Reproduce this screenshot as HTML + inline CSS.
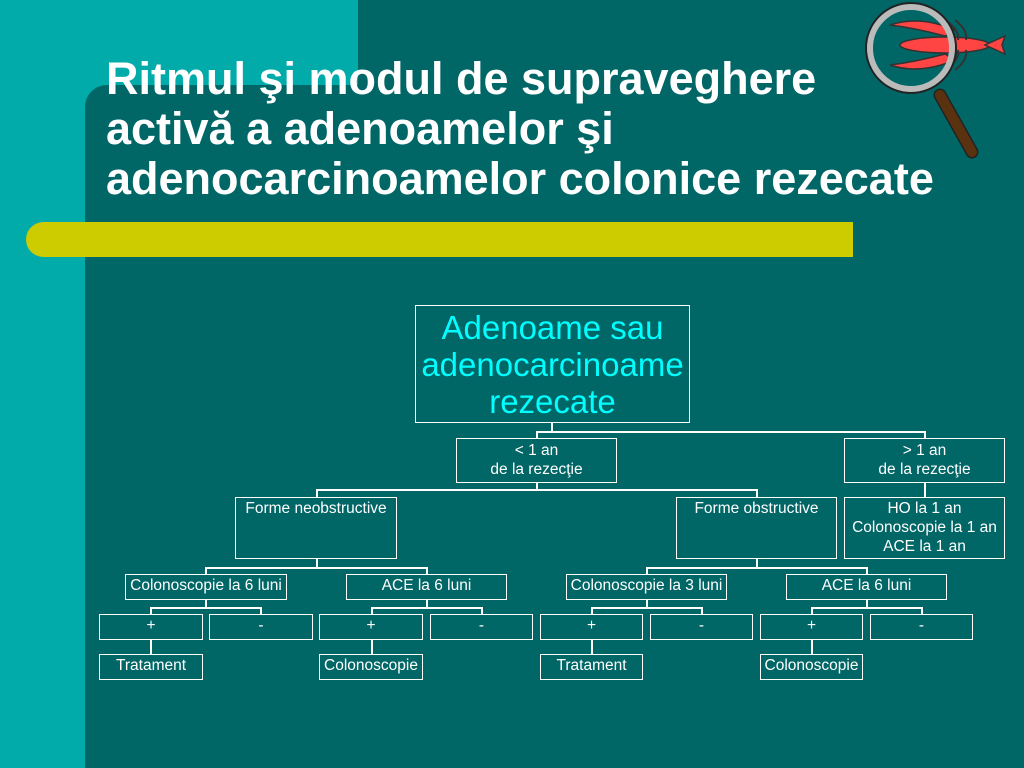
<!DOCTYPE html>
<html><head><meta charset="utf-8"><style>
body{margin:0;width:1024px;height:768px;overflow:hidden;background:#00ABAA;position:relative;font-family:"Liberation Sans",Arial,sans-serif}
.dk{position:absolute;background:#006666}
.b{position:absolute;border:1.5px solid #fff;box-sizing:border-box;color:#fff;font-size:15.5px;text-align:center;line-height:18px;white-space:nowrap}
.l{position:absolute;background:#fff}
h1{position:absolute;left:106px;top:54px;margin:0;color:#fff;font-size:45px;line-height:50px;font-weight:bold;white-space:nowrap}
</style></head><body>
<div class="dk" style="left:358px;top:0;width:666px;height:768px"></div>
<div class="dk" style="left:85px;top:85px;width:939px;height:683px;border-top-left-radius:22px"></div>
<div style="position:absolute;left:26px;top:222px;width:827px;height:35px;background:#CCCC00;border-radius:18px 0 0 18px"></div>
<h1>Ritmul şi modul de supraveghere<br>activă a adenoamelor şi<br>adenocarcinoamelor colonice rezecate</h1>
<svg style="position:absolute;left:850px;top:0" width="174" height="170">
<g fill="#ff4444" stroke="#333" stroke-width="1.5">
<path d="M40 25 Q70 15 105 30 L95 36 Q65 28 40 25Z"/>
<path d="M40 65 Q70 75 105 60 L95 54 Q65 62 40 65Z"/>
<ellipse cx="95" cy="45" rx="45" ry="8"/>
<path d="M135 45 L155 36 L152 45 L155 54Z"/>
</g>
<g stroke="#333" stroke-width="2" fill="none">
<path d="M95 20 Q110 30 108 40"/><path d="M105 20 Q118 30 116 40"/>
<path d="M95 70 Q110 60 108 50"/><path d="M105 70 Q118 60 116 50"/>
</g>
<circle cx="61" cy="48" r="45" fill="none" stroke="#222" stroke-width="2"/>
<circle cx="61" cy="48" r="41" fill="none" stroke="#bbb" stroke-width="6"/>
<line x1="90" y1="95" x2="122" y2="152" stroke="#222" stroke-width="13" stroke-linecap="round"/>
<line x1="90" y1="95" x2="122" y2="152" stroke="#5a3210" stroke-width="10" stroke-linecap="round"/>
</svg>

<div class="b" style="left:415px;top:305px;width:275px;height:118px;color:#00FFFF;font-size:33px;line-height:37px;padding-top:3px">Adenoame sau<br>adenocarcinoame<br>rezecate</div>
<div class="l" style="left:551px;top:423px;width:1.5px;height:9px"></div>
<div class="l" style="left:536px;top:431px;width:389px;height:1.5px"></div>
<div class="l" style="left:536px;top:431px;width:1.5px;height:7px"></div>
<div class="l" style="left:924px;top:431px;width:1.5px;height:7px"></div>
<div class="b" style="left:456px;top:438px;width:161px;height:45px;padding-top:2px;line-height:19px">&lt; 1 an<br>de la rezecţie</div>
<div class="b" style="left:844px;top:438px;width:161px;height:45px;padding-top:2px;line-height:19px">&gt; 1 an<br>de la rezecţie</div>
<div class="l" style="left:536px;top:483px;width:1.5px;height:7px"></div>
<div class="l" style="left:316px;top:489px;width:441px;height:1.5px"></div>
<div class="l" style="left:316px;top:489px;width:1.5px;height:8px"></div>
<div class="l" style="left:756px;top:489px;width:1.5px;height:8px"></div>
<div class="l" style="left:924px;top:483px;width:1.5px;height:14px"></div>
<div class="b" style="left:235px;top:497px;width:162px;height:62px;padding-top:2px">Forme neobstructive</div>
<div class="b" style="left:676px;top:497px;width:161px;height:62px;padding-top:2px">Forme obstructive</div>
<div class="b" style="left:844px;top:497px;width:161px;height:62px;padding-top:1px;line-height:19px">HO la 1 an<br>Colonoscopie la 1 an<br>ACE la 1 an</div>

<div class="l" style="left:316px;top:559px;width:1.5px;height:8px"></div>
<div class="l" style="left:205px;top:567px;width:222px;height:1.5px"></div>
<div class="l" style="left:205px;top:567px;width:1.5px;height:7px"></div>
<div class="l" style="left:426px;top:567px;width:1.5px;height:7px"></div>
<div class="l" style="left:756px;top:559px;width:1.5px;height:8px"></div>
<div class="l" style="left:646px;top:567px;width:221px;height:1.5px"></div>
<div class="l" style="left:646px;top:567px;width:1.5px;height:7px"></div>
<div class="l" style="left:866px;top:567px;width:1.5px;height:7px"></div>

<div class="b" style="left:125px;top:574px;width:162px;height:26px;padding-top:2px">Colonoscopie la 6 luni</div>
<div class="b" style="left:346px;top:574px;width:161px;height:26px;padding-top:2px">ACE la 6 luni</div>
<div class="b" style="left:566px;top:574px;width:161px;height:26px;padding-top:2px">Colonoscopie la 3 luni</div>
<div class="b" style="left:786px;top:574px;width:161px;height:26px;padding-top:2px">ACE la 6 luni</div>

<div class="l" style="left:205px;top:600px;width:1.5px;height:8px"></div>
<div class="l" style="left:150px;top:607px;width:111px;height:1.5px"></div>
<div class="l" style="left:150px;top:607px;width:1.5px;height:7px"></div>
<div class="l" style="left:260px;top:607px;width:1.5px;height:7px"></div>
<div class="l" style="left:426px;top:600px;width:1.5px;height:8px"></div>
<div class="l" style="left:371px;top:607px;width:111px;height:1.5px"></div>
<div class="l" style="left:371px;top:607px;width:1.5px;height:7px"></div>
<div class="l" style="left:481px;top:607px;width:1.5px;height:7px"></div>
<div class="l" style="left:646px;top:600px;width:1.5px;height:8px"></div>
<div class="l" style="left:591px;top:607px;width:111px;height:1.5px"></div>
<div class="l" style="left:591px;top:607px;width:1.5px;height:7px"></div>
<div class="l" style="left:701px;top:607px;width:1.5px;height:7px"></div>
<div class="l" style="left:866px;top:600px;width:1.5px;height:8px"></div>
<div class="l" style="left:811px;top:607px;width:111px;height:1.5px"></div>
<div class="l" style="left:811px;top:607px;width:1.5px;height:7px"></div>
<div class="l" style="left:921px;top:607px;width:1.5px;height:7px"></div>

<div class="b" style="left:99px;top:614px;width:104px;height:26px;padding-top:2px">+</div>
<div class="b" style="left:209px;top:614px;width:104px;height:26px;padding-top:2px">-</div>
<div class="b" style="left:319px;top:614px;width:104px;height:26px;padding-top:2px">+</div>
<div class="b" style="left:430px;top:614px;width:103px;height:26px;padding-top:2px">-</div>
<div class="b" style="left:540px;top:614px;width:103px;height:26px;padding-top:2px">+</div>
<div class="b" style="left:650px;top:614px;width:103px;height:26px;padding-top:2px">-</div>
<div class="b" style="left:760px;top:614px;width:103px;height:26px;padding-top:2px">+</div>
<div class="b" style="left:870px;top:614px;width:103px;height:26px;padding-top:2px">-</div>

<div class="l" style="left:150px;top:640px;width:1.5px;height:14px"></div>
<div class="l" style="left:371px;top:640px;width:1.5px;height:14px"></div>
<div class="l" style="left:591px;top:640px;width:1.5px;height:14px"></div>
<div class="l" style="left:811px;top:640px;width:1.5px;height:14px"></div>
<div class="b" style="left:99px;top:654px;width:104px;height:26px;padding-top:2px">Tratament</div>
<div class="b" style="left:319px;top:654px;width:104px;height:26px;padding-top:2px">Colonoscopie</div>
<div class="b" style="left:540px;top:654px;width:103px;height:26px;padding-top:2px">Tratament</div>
<div class="b" style="left:760px;top:654px;width:103px;height:26px;padding-top:2px">Colonoscopie</div>
</body></html>
